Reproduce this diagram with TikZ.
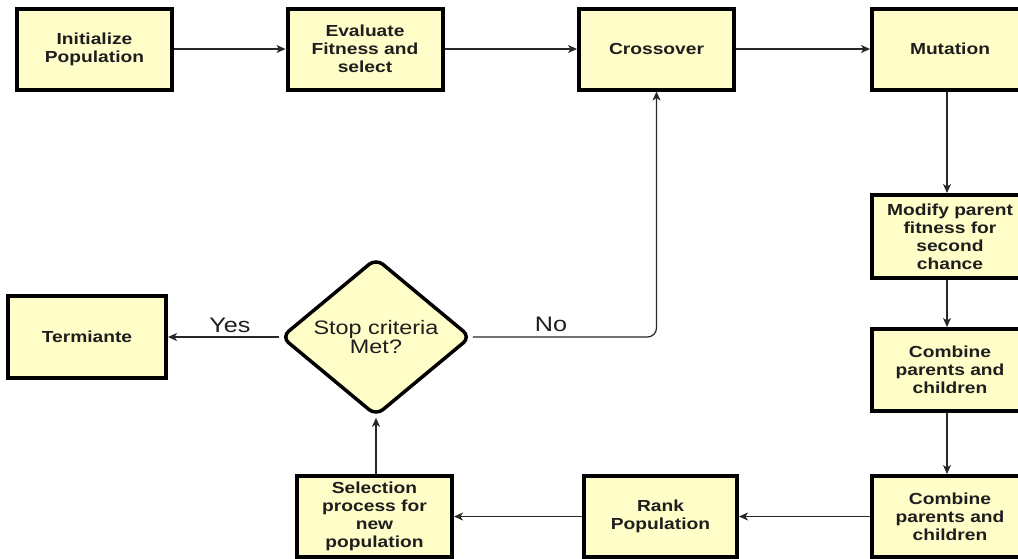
\documentclass[tikz,border=0pt]{standalone}
\usepackage{fontspec}
\setmainfont{Liberation Sans}
\newfontfamily\boxfont[FakeStretch=1.2]{Liberation Sans}
\usetikzlibrary{shapes.geometric,arrows.meta}
\definecolor{boxfill}{RGB}{255,253,200}
\definecolor{txt}{RGB}{30,30,30}
\definecolor{linec}{RGB}{40,40,40}
\tikzset{
  box/.style={draw=black, line width=4pt, fill=boxfill, inner sep=0pt,
    minimum width=#1, minimum height=81pt, align=center, text=txt,
    font=\boxfont\fontsize{16}{18}\selectfont\bfseries},
  box/.default=155pt,
  dec/.style={diamond, draw=black, line width=3.5pt, fill=boxfill, rounded corners=9pt,
    minimum width=190pt, minimum height=142pt, inner sep=0pt, align=center, text=txt,
    font=\boxfont\fontsize{19.5}{19}\selectfont},
  conn/.style={draw=linec, line width=1.2pt, -{Stealth[length=9pt,width=8pt,inset=2.5pt]}},
  lbl/.style={text=txt, font=\boxfont\fontsize{21}{22}\selectfont, inner sep=0pt}
}
\begin{document}
\begin{tikzpicture}[x=1pt,y=-1pt]
\useasboundingbox (0,0) rectangle (1018,558);
\node[box] (init) at (94.5,49) {Initialize\\Population};
\node[box] (eval) at (365,49) {Evaluate\\Fitness and\\select};
\node[box] (cross) at (656.5,49) {Crossover};
\node[box=156pt] (mut) at (950,49) {Mutation};
\node[box=156pt, minimum height=83pt] (mod) at (950,236.5) {Modify parent\\fitness for\\second\\chance};
\node[box=156pt, minimum height=82pt] (comb1) at (950,370) {Combine\\parents and\\children};
\node[box=156pt] (comb2) at (950,516.5) {Combine\\parents and\\children};
\node[box=153pt] (rank) at (660.5,516.5) {Rank\\Population};
\node[box] (sel) at (374.5,516.5) {Selection\\process for\\new\\population};
\node[dec] (stop) at (376,337) {Stop criteria\\Met?};
\node[box=158pt, minimum height=82pt] (term) at (87,337) {Termiante};

\coordinate (mutb) at (947,89);
\coordinate (modt) at (947,195);
\coordinate (modb) at (947,278);
\coordinate (c1t) at (947,329);
\coordinate (c1b) at (947,411);
\coordinate (c2t) at (947,475);

\draw[conn] (init) -- (eval);
\draw[conn] (eval) -- (cross);
\draw[conn] (cross) -- (mut);
\draw[conn] (mut.south -| mutb) -- (mod.north -| modt);
\draw[conn] (mod.south -| modb) -- (comb1.north -| c1t);
\draw[conn] (comb1.south -| c1b) -- (comb2.north -| c2t);
\draw[conn] (comb2) -- (rank);
\draw[conn] (rank) -- (sel);
\draw[conn] (sel.north -| stop.south) -- (stop.south);
\draw[conn] (stop.west) -- (term.east);
\draw[conn, rounded corners=9pt] (stop.east) -| (cross.south);

\node[lbl] (yes) at (230,325) {Yes};
\node[lbl] (no) at (551,324.5) {No};
\end{tikzpicture}
\end{document}
